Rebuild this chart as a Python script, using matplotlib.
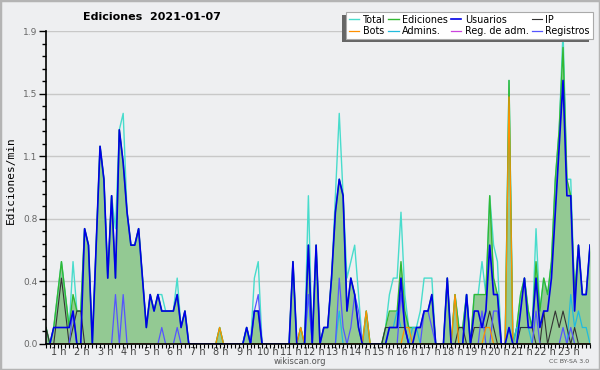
import numpy as np
import matplotlib.pyplot as plt
from matplotlib.patches import Rectangle

# edits per minute, one value per 10 minutes (00:00 .. 23:30)
total = [
    0.1, 0.0, 0.1, 0.3, 0.5, 0.3,
    0.1, 0.5, 0.2, 0.2, 0.7, 0.6,
    0.0, 0.6, 1.2, 1.0, 0.4, 0.9,
    0.7, 1.3, 1.4, 0.8, 0.6, 0.6,
    0.7, 0.4, 0.1, 0.3, 0.2, 0.3,
    0.3, 0.2, 0.2, 0.2, 0.4, 0.1,
    0.2, 0.0, 0.0, 0.0, 0.0, 0.0,
    0.0, 0.0, 0.0, 0.1, 0.0, 0.0,
    0.0, 0.0, 0.0, 0.0, 0.1, 0.0,
    0.4, 0.5, 0.0, 0.0, 0.0, 0.0,
    0.0, 0.0, 0.0, 0.0, 0.5, 0.0,
    0.1, 0.0, 0.9, 0.0, 0.6, 0.0,
    0.1, 0.1, 0.4, 0.9, 1.4, 0.9,
    0.4, 0.5, 0.6, 0.3, 0.0, 0.2,
    0.0, 0.0, 0.0, 0.0, 0.1, 0.3,
    0.4, 0.4, 0.8, 0.3, 0.1, 0.1,
    0.1, 0.2, 0.4, 0.4, 0.4, 0.0,
    0.0, 0.0, 0.4, 0.0, 0.3, 0.1,
    0.1, 0.3, 0.0, 0.3, 0.3, 0.5,
    0.3, 0.9, 0.6, 0.5, 0.0, 0.0,
    1.6, 0.0, 0.1, 0.3, 0.4, 0.2,
    0.1, 0.7, 0.2, 0.4, 0.3, 0.5,
    1.0, 1.3, 1.9, 1.0, 1.0, 0.3,
    0.6, 0.3, 0.3, 0.6,
]
ediciones = [
    0.1, 0.0, 0.1, 0.3, 0.5, 0.3,
    0.1, 0.3, 0.2, 0.2, 0.7, 0.6,
    0.0, 0.6, 1.2, 1.0, 0.4, 0.9,
    0.4, 1.3, 1.1, 0.8, 0.6, 0.6,
    0.7, 0.4, 0.1, 0.3, 0.2, 0.3,
    0.2, 0.2, 0.2, 0.2, 0.3, 0.1,
    0.2, 0.0, 0.0, 0.0, 0.0, 0.0,
    0.0, 0.0, 0.0, 0.1, 0.0, 0.0,
    0.0, 0.0, 0.0, 0.0, 0.1, 0.0,
    0.2, 0.2, 0.0, 0.0, 0.0, 0.0,
    0.0, 0.0, 0.0, 0.0, 0.5, 0.0,
    0.1, 0.0, 0.6, 0.0, 0.6, 0.0,
    0.1, 0.1, 0.4, 0.8, 1.0, 0.9,
    0.2, 0.4, 0.3, 0.1, 0.0, 0.2,
    0.0, 0.0, 0.0, 0.0, 0.1, 0.2,
    0.2, 0.2, 0.5, 0.2, 0.1, 0.1,
    0.1, 0.1, 0.2, 0.2, 0.3, 0.0,
    0.0, 0.0, 0.4, 0.0, 0.3, 0.1,
    0.1, 0.3, 0.0, 0.3, 0.3, 0.3,
    0.3, 0.9, 0.4, 0.3, 0.0, 0.0,
    1.6, 0.0, 0.1, 0.3, 0.4, 0.2,
    0.1, 0.5, 0.2, 0.4, 0.3, 0.5,
    1.0, 1.3, 1.8, 1.0, 0.9, 0.3,
    0.6, 0.3, 0.3, 0.6,
]
usuarios = [
    0.0, 0.0, 0.1, 0.1, 0.1, 0.1,
    0.1, 0.2, 0.0, 0.0, 0.7, 0.6,
    0.0, 0.6, 1.2, 1.0, 0.4, 0.9,
    0.4, 1.3, 1.1, 0.8, 0.6, 0.6,
    0.7, 0.4, 0.1, 0.3, 0.2, 0.3,
    0.2, 0.2, 0.2, 0.2, 0.3, 0.1,
    0.2, 0.0, 0.0, 0.0, 0.0, 0.0,
    0.0, 0.0, 0.0, 0.0, 0.0, 0.0,
    0.0, 0.0, 0.0, 0.0, 0.1, 0.0,
    0.2, 0.2, 0.0, 0.0, 0.0, 0.0,
    0.0, 0.0, 0.0, 0.0, 0.5, 0.0,
    0.0, 0.0, 0.6, 0.0, 0.6, 0.0,
    0.1, 0.1, 0.4, 0.8, 1.0, 0.9,
    0.2, 0.4, 0.3, 0.1, 0.0, 0.0,
    0.0, 0.0, 0.0, 0.0, 0.0, 0.1,
    0.1, 0.1, 0.4, 0.1, 0.0, 0.0,
    0.1, 0.1, 0.2, 0.2, 0.3, 0.0,
    0.0, 0.0, 0.4, 0.0, 0.0, 0.0,
    0.0, 0.3, 0.0, 0.2, 0.2, 0.1,
    0.2, 0.6, 0.3, 0.3, 0.0, 0.0,
    0.1, 0.0, 0.0, 0.2, 0.4, 0.1,
    0.1, 0.4, 0.1, 0.2, 0.2, 0.4,
    0.8, 1.2, 1.6, 0.9, 0.9, 0.2,
    0.6, 0.3, 0.3, 0.6,
]
ip = [
    0.1, 0.0, 0.0, 0.2, 0.4, 0.2,
    0.0, 0.1, 0.2, 0.2, 0.0, 0.0,
    0.0, 0.0, 0.0, 0.0, 0.0, 0.0,
    0.0, 0.0, 0.0, 0.0, 0.0, 0.0,
    0.0, 0.0, 0.0, 0.0, 0.0, 0.0,
    0.0, 0.0, 0.0, 0.0, 0.0, 0.0,
    0.0, 0.0, 0.0, 0.0, 0.0, 0.0,
    0.0, 0.0, 0.0, 0.0, 0.0, 0.0,
    0.0, 0.0, 0.0, 0.0, 0.0, 0.0,
    0.0, 0.0, 0.0, 0.0, 0.0, 0.0,
    0.0, 0.0, 0.0, 0.0, 0.0, 0.0,
    0.0, 0.0, 0.0, 0.0, 0.0, 0.0,
    0.0, 0.0, 0.0, 0.0, 0.0, 0.0,
    0.0, 0.0, 0.0, 0.0, 0.0, 0.0,
    0.0, 0.0, 0.0, 0.0, 0.1, 0.1,
    0.1, 0.1, 0.1, 0.1, 0.0, 0.0,
    0.0, 0.0, 0.0, 0.0, 0.0, 0.0,
    0.0, 0.0, 0.0, 0.0, 0.0, 0.1,
    0.1, 0.0, 0.0, 0.1, 0.1, 0.1,
    0.1, 0.2, 0.1, 0.0, 0.0, 0.0,
    0.0, 0.0, 0.0, 0.1, 0.1, 0.1,
    0.1, 0.0, 0.0, 0.2, 0.0, 0.1,
    0.2, 0.1, 0.2, 0.1, 0.0, 0.1,
    0.0, 0.0, 0.0, 0.0,
]
bots = [
    0.0, 0.0, 0.0, 0.0, 0.0, 0.0,
    0.0, 0.0, 0.0, 0.0, 0.0, 0.0,
    0.0, 0.0, 0.0, 0.0, 0.0, 0.0,
    0.0, 0.0, 0.0, 0.0, 0.0, 0.0,
    0.0, 0.0, 0.0, 0.0, 0.0, 0.0,
    0.0, 0.0, 0.0, 0.0, 0.0, 0.0,
    0.0, 0.0, 0.0, 0.0, 0.0, 0.0,
    0.0, 0.0, 0.0, 0.1, 0.0, 0.0,
    0.0, 0.0, 0.0, 0.0, 0.0, 0.0,
    0.0, 0.0, 0.0, 0.0, 0.0, 0.0,
    0.0, 0.0, 0.0, 0.0, 0.0, 0.0,
    0.1, 0.0, 0.0, 0.0, 0.0, 0.0,
    0.0, 0.0, 0.0, 0.0, 0.0, 0.0,
    0.0, 0.0, 0.0, 0.0, 0.0, 0.2,
    0.0, 0.0, 0.0, 0.0, 0.0, 0.0,
    0.0, 0.0, 0.0, 0.1, 0.1, 0.0,
    0.0, 0.0, 0.0, 0.0, 0.0, 0.0,
    0.0, 0.0, 0.0, 0.0, 0.3, 0.0,
    0.0, 0.0, 0.0, 0.0, 0.0, 0.0,
    0.1, 0.1, 0.0, 0.0, 0.0, 0.0,
    1.5, 0.0, 0.0, 0.0, 0.0, 0.0,
    0.0, 0.0, 0.0, 0.0, 0.0, 0.0,
    0.0, 0.0, 0.0, 0.0, 0.0, 0.0,
    0.0, 0.0, 0.0, 0.0,
]
admins = [
    0.0, 0.0, 0.0, 0.0, 0.0, 0.0,
    0.0, 0.0, 0.0, 0.0, 0.0, 0.0,
    0.0, 0.0, 0.0, 0.0, 0.0, 0.0,
    0.0, 0.0, 0.0, 0.0, 0.0, 0.0,
    0.0, 0.0, 0.0, 0.0, 0.0, 0.0,
    0.0, 0.0, 0.0, 0.0, 0.0, 0.0,
    0.0, 0.0, 0.0, 0.0, 0.0, 0.0,
    0.0, 0.0, 0.0, 0.0, 0.0, 0.0,
    0.0, 0.0, 0.0, 0.0, 0.1, 0.0,
    0.0, 0.0, 0.0, 0.0, 0.0, 0.0,
    0.0, 0.0, 0.0, 0.0, 0.0, 0.0,
    0.0, 0.0, 0.3, 0.0, 0.0, 0.0,
    0.0, 0.0, 0.0, 0.0, 0.2, 0.0,
    0.0, 0.0, 0.0, 0.0, 0.0, 0.0,
    0.0, 0.0, 0.0, 0.0, 0.0, 0.1,
    0.1, 0.2, 0.1, 0.1, 0.0, 0.1,
    0.1, 0.0, 0.0, 0.0, 0.0, 0.0,
    0.0, 0.0, 0.0, 0.0, 0.0, 0.0,
    0.0, 0.3, 0.0, 0.0, 0.0, 0.0,
    0.0, 0.0, 0.0, 0.0, 0.0, 0.0,
    0.1, 0.0, 0.1, 0.1, 0.1, 0.1,
    0.0, 0.0, 0.0, 0.0, 0.0, 0.0,
    0.0, 0.0, 0.0, 0.0, 0.3, 0.1,
    0.2, 0.1, 0.1, 0.0,
]
reg_adm = [0.0] * 6 * 23 + [0.0] * 4
registros = [
    0.0, 0.0, 0.0, 0.0, 0.0, 0.0,
    0.0, 0.2, 0.0, 0.0, 0.0, 0.0,
    0.0, 0.0, 0.0, 0.0, 0.0, 0.0,
    0.3, 0.0, 0.3, 0.0, 0.0, 0.0,
    0.0, 0.0, 0.0, 0.0, 0.0, 0.0,
    0.1, 0.0, 0.0, 0.0, 0.1, 0.0,
    0.0, 0.0, 0.0, 0.0, 0.0, 0.0,
    0.0, 0.0, 0.0, 0.0, 0.0, 0.0,
    0.0, 0.0, 0.0, 0.0, 0.0, 0.0,
    0.2, 0.3, 0.0, 0.0, 0.0, 0.0,
    0.0, 0.0, 0.0, 0.0, 0.0, 0.0,
    0.0, 0.0, 0.3, 0.0, 0.0, 0.0,
    0.0, 0.0, 0.0, 0.0, 0.4, 0.1,
    0.0, 0.1, 0.3, 0.2, 0.0, 0.0,
    0.0, 0.0, 0.0, 0.0, 0.0, 0.0,
    0.0, 0.0, 0.3, 0.1, 0.0, 0.0,
    0.0, 0.0, 0.2, 0.2, 0.1, 0.0,
    0.0, 0.0, 0.0, 0.0, 0.0, 0.0,
    0.0, 0.0, 0.0, 0.0, 0.0, 0.2,
    0.0, 0.0, 0.2, 0.2, 0.0, 0.0,
    0.0, 0.0, 0.0, 0.0, 0.0, 0.0,
    0.0, 0.2, 0.0, 0.0, 0.0, 0.0,
    0.0, 0.0, 0.1, 0.0, 0.1, 0.0,
    0.0, 0.0, 0.0, 0.0,
]
hour_labels = [f"{h} h" for h in range(1, 24)]
y_labels = ["0.0", "0.4", "0.8", "1.1", "1.5", "1.9"]

bg = "#eeeff1"
x = np.arange(len(total))

fig = plt.figure(figsize=(6, 3.7), dpi=100)
fig.patch.set_facecolor(bg)
fig.patches.append(Rectangle((0, 0), 1, 1, transform=fig.transFigure,
                             fill=False, edgecolor="#b4b4b4", lw=2.5))

ax = fig.add_axes([0.0767, 0.0703, 0.9067, 0.8459])
ax.set_facecolor(bg)

ax.fill_between(x, ediciones, color="#93c993", lw=0, zorder=1)
l_tot, = ax.plot(x, total, color="#48dccc", lw=1.0, zorder=2)
l_ed, = ax.plot(x, ediciones, color="#33b833", lw=1.0, zorder=3)
l_reg_adm, = ax.plot(x, reg_adm, color="#cc44dd", lw=0.9, zorder=2)
l_adm, = ax.plot(x, admins, color="#22bbdd", lw=0.9, zorder=4)
l_ip, = ax.plot(x, ip, color="#333333", lw=0.8, zorder=4)
l_reg, = ax.plot(x, registros, color="#5555ff", lw=0.9, zorder=4)
l_bots, = ax.plot(x, bots, color="#ff9000", lw=0.9, zorder=5)
l_usu, = ax.plot(x, usuarios, color="#0000e6", lw=1.2, zorder=6)

ax.set_xlim(0, 141)
ax.set_ylim(0, 1.9)

yt = np.linspace(0, 1.9, 6)
ax.set_yticks(yt)
ax.set_yticklabels(y_labels)
ax.set_yticks(np.linspace(0, 1.9, 26), minor=True)
ax.set_xticks([6 * h - 2.6 for h in range(1, 24)])
ax.set_xticklabels(hour_labels)
ax.set_xticks(np.arange(0, 142), minor=True)

ax.tick_params(axis="y", which="major", length=5, width=1, labelsize=6.5,
               labelcolor="#666666", pad=1)
ax.tick_params(axis="y", which="minor", length=3, width=1)
ax.tick_params(axis="x", which="major", length=0, labelsize=7,
               labelcolor="#444444", pad=2)
ax.tick_params(axis="x", which="minor", length=3, width=0.8)

ax.yaxis.grid(True, color="#c8c8c8", lw=1)
ax.set_axisbelow(True)
for s in ("top", "right"):
    ax.spines[s].set_visible(False)
for s in ("left", "bottom"):
    ax.spines[s].set_linewidth(1.2)
    ax.spines[s].set_zorder(10)

fig.text(0.253, 0.955, "Ediciones  2021-01-07", ha="center", va="center",
         fontsize=8, fontweight="bold")
fig.text(0.018, 0.514, "Ediciones/min", rotation=90, ha="center", va="center",
         family="DejaVu Sans Mono", fontsize=8)
fig.text(0.5, 0.024, "wikiscan.org", ha="center", va="center",
         fontsize=6, color="#555555")
fig.text(0.982, 0.022, "CC BY-SA 3.0", ha="right", va="center",
         fontsize=4.5, color="#555555")

handles = [l_tot, l_bots, l_ed, l_adm, l_usu, l_reg_adm, l_ip, l_reg]
labels = ["Total", "Bots", "Ediciones", "Admins.", "Usuarios",
          "Reg. de adm.", "IP", "Registros"]
leg = ax.legend(handles, labels, ncol=4, loc="upper right",
                bbox_to_anchor=(0.988, 0.968), bbox_transform=fig.transFigure,
                fontsize=6.9, handlelength=1.1, handletextpad=0.35,
                columnspacing=0.3, labelspacing=0.12, borderpad=0.3,
                borderaxespad=0, fancybox=False, framealpha=1)
leg.get_frame().set_edgecolor("#aaaaaa")
leg.get_frame().set_linewidth(0.8)
leg.set_zorder(20)

# dark shadow under the legend, shifted to the lower left
fig.canvas.draw()
bb = leg.get_window_extent().transformed(fig.transFigure.inverted())
dx, dy = 3.5 / 600, 3.5 / 370
ax.add_patch(Rectangle((bb.x0 - dx, bb.y0 - dy), bb.width, bb.height,
                       transform=fig.transFigure, facecolor="#666666",
                       edgecolor="none", clip_on=False, zorder=19))

fig.savefig("out.png", dpi=100, facecolor=bg)
